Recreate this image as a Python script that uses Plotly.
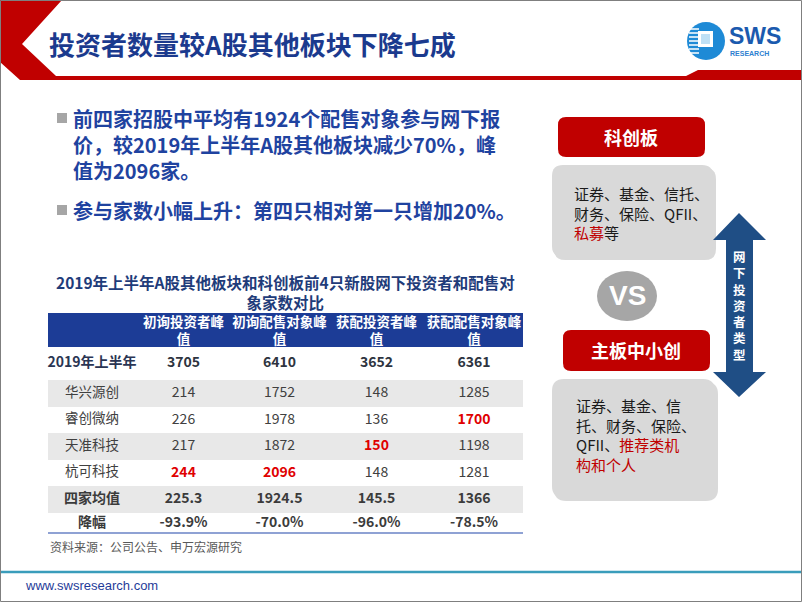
import plotly.graph_objects as go

W, H = 802, 602
CJK = "Noto Sans CJK SC"

# ---- slide text and table values ----
TITLE = "投资者数量较A股其他板块下降七成"
BULLETS = [
    ["前四家招股中平均有1924个配售对象参与网下报",
     "价，较2019年上半年A股其他板块减少70%，峰",
     "值为2096家。"],
    ["参与家数小幅上升：第四只相对第一只增加20%。"],
]
TABLE_TITLE = ["2019年上半年A股其他板块和科创板前4只新股网下投资者和配售对",
               "象家数对比"]
COLUMNS = ["初询投资者峰值", "初询配售对象峰值", "获配投资者峰值", "获配配售对象峰值"]
BASE_LABEL = "2019年上半年"
BASE_VALUES = [3705, 6410, 3652, 6361]
STOCKS = ["华兴源创", "睿创微纳", "天准科技", "杭可科技"]
INQ_INVESTORS = [214, 226, 217, 244]
INQ_ACCOUNTS = [1752, 1978, 1872, 2096]
ALLOT_INVESTORS = [148, 136, 150, 148]
ALLOT_ACCOUNTS = [1285, 1700, 1198, 1281]
MEAN_LABEL = "四家均值"
MEAN_VALUES = ["225.3", "1924.5", "145.5", "1366"]
DROP_LABEL = "降幅"
DROP_VALUES = ["-93.9%", "-70.0%", "-96.0%", "-78.5%"]
SOURCE = "资料来源：公司公告、申万宏源研究"

STAR_BOARD = "科创板"
STAR_TYPES = ["证券、基金、信托、", "财务、保险、QFII、", "<span style='color:#C00000'>私募</span>等"]
MAIN_BOARD = "主板中小创"
MAIN_TYPES = ["证券、基金、信", "托、财务、保险、",
              "QFII、<span style='color:#C00000'>推荐类机</span>",
              "<span style='color:#C00000'>构和个人</span>"]
ARROW_LABEL = "网下投资者类型"
SITE = "www.swsresearch.com"

# ---- colours ----
RED = "#C00000"
NAVY = "#1B3A8E"
BULLET_BLUE = "#1F43A0"
HEADER_BLUE = "#1C3C96"
ROW_GREY = "#E8E8E8"
BOX_GREY = "#D9D9D9"
ARROW_BLUE = "#1F4E85"


def rrect(x0, y0, x1, y1, r):
    return (f"M{x0 + r},{y0} L{x1 - r},{y0} Q{x1},{y0} {x1},{y0 + r} "
            f"L{x1},{y1 - r} Q{x1},{y1} {x1 - r},{y1} L{x0 + r},{y1} "
            f"Q{x0},{y1} {x0},{y1 - r} L{x0},{y0 + r} Q{x0},{y0} {x0 + r},{y0} Z")


shapes = []
annotations = []


def note(x, y, text, size, color, bold=False, anchor="left", family=CJK, align=None):
    annotations.append(dict(
        x=x, y=y, xref="x", yref="y", text=f"<b>{text}</b>" if bold else text,
        showarrow=False, xanchor=anchor, yanchor="middle", align=align or anchor,
        font=dict(family=family, size=size, color=color)))


# ---- slide frame, header band, logo, footer ----
shapes.append(dict(type="path", path="M0,0 L62,0 L22,44 L56,76 L686,76 L698,70 L802,70 "
                   "L802,80 L20,80 L0,62 Z", fillcolor=RED, line=dict(width=0)))
shapes.append(dict(type="circle", x0=687, x1=725, y0=22, y1=60, fillcolor="#1E8AD6",
                   line=dict(width=0)))
for sy in [29, 33, 37, 41, 45, 49, 53]:
    shapes.append(dict(type="line", x0=689, x1=699, y0=sy, y1=sy,
                       line=dict(color="white", width=1.5)))
shapes.append(dict(type="rect", x0=698, x1=713, y0=31, y1=47, fillcolor="white",
                   line=dict(width=0)))
shapes.append(dict(type="rect", x0=701, x1=710, y0=34, y1=44, fillcolor="#BFE0F5",
                   line=dict(width=0)))
note(727, 36, "SWS", 23, "#1B5AAE", bold=True, family="Liberation Sans")
note(728, 53, "RESEARCH", 7, "#2E7FD0", bold=True, family="Liberation Sans")
note(47, 43, TITLE, 26, NAVY, bold=True)

shapes.append(dict(type="line", x0=0, x1=W, y0=572, y1=572,
                   line=dict(color="#3A9DBB", width=2.5)))
note(23, 585, SITE, 13, "#1F3C99", family="Liberation Sans")
shapes.append(dict(type="rect", x0=0.5, x1=W - 0.5, y0=0.5, y1=H - 0.5,
                   line=dict(color="#7F7F7F", width=1)))

# ---- bullets ----
para_y = [144, 210]
for lines, yy in zip(BULLETS, para_y):
    top = yy - (len(lines) - 1) * 13
    shapes.append(dict(type="rect", x0=57, x1=67, y0=top - 5, y1=top + 5,
                       fillcolor="#A6A6A6", line=dict(width=0)))
    note(71, yy, "<br>".join(lines), 20, BULLET_BLUE, bold=True)

# ---- table ----
note(285, 292, "<br>".join(TABLE_TITLE), 15.5, "#1F3C7A", bold=True, anchor="center")

tx0 = 48
col_w = [88, 95, 97, 97, 98]
col_x = []
edge = tx0
for w in col_w:
    col_x.append(edge + w / 2)
    edge += w
tx1 = edge
head_top, head_bot = 313, 347
row_h = [33, 27, 26, 27, 26, 27, 20]
row_top = [head_bot]
for h in row_h[:-1]:
    row_top.append(row_top[-1] + h)
row_y = [t + h / 2 for t, h in zip(row_top, row_h)]

shapes.append(dict(type="rect", x0=tx0, x1=tx1, y0=head_top, y1=head_bot,
                   fillcolor=HEADER_BLUE, line=dict(width=0), layer="below"))
for i, (t, h) in enumerate(zip(row_top, row_h)):
    if i % 2 == 1:
        shapes.append(dict(type="rect", x0=tx0, x1=tx1, y0=t, y1=t + h,
                           fillcolor=ROW_GREY, line=dict(width=0), layer="below"))
shapes.append(dict(type="line", x0=tx0, x1=tx1, y0=row_top[-1] + row_h[-1],
                   y1=row_top[-1] + row_h[-1], line=dict(color="#8FA2D4", width=2)))
note(tx0, 546, SOURCE, 12, "#595959")

xs, ys, texts, colors, sizes = [], [], [], [], []


def cell(x, y, text, color, size, bold):
    xs.append(x)
    ys.append(y)
    texts.append(f"<b>{text}</b>" if bold else text)
    colors.append(color)
    sizes.append(size)


for c, name in enumerate(COLUMNS):
    cell(col_x[c + 1], head_top + 19, name[:-1] + "<br>" + name[-1:],
         "white", 13.5, True)

series = [INQ_INVESTORS, INQ_ACCOUNTS, ALLOT_INVESTORS, ALLOT_ACCOUNTS]
peaks = [s.index(max(s)) for s in series]

cell(col_x[0], row_y[0], BASE_LABEL, "#2A3553", 14, True)
for c, v in enumerate(BASE_VALUES):
    cell(col_x[c + 1], row_y[0], str(v), "#2E3440", 14, True)
for r, name in enumerate(STOCKS):
    y = row_y[r + 1]
    cell(col_x[0], y, name, "#404040", 13.5, False)
    for c, s in enumerate(series):
        hot = peaks[c] == r
        cell(col_x[c + 1], y, str(s[r]), "#E00000" if hot else "#404040", 14, hot)
cell(col_x[0], row_y[5], MEAN_LABEL, "#3B3B3B", 14, True)
for c, v in enumerate(MEAN_VALUES):
    cell(col_x[c + 1], row_y[5], v, "#3B3B3B", 14, True)
cell(col_x[0], row_y[6], DROP_LABEL, "#3B3B3B", 14, True)
for c, v in enumerate(DROP_VALUES):
    cell(col_x[c + 1], row_y[6], v, "#3B3B3B", 14, True)

fig = go.Figure(go.Scatter(
    x=xs, y=ys, text=texts, mode="text", textposition="middle center",
    textfont=dict(family=CJK, size=sizes, color=colors),
    hoverinfo="skip", showlegend=False, cliponaxis=False))

# ---- right panel: investor types ----
shapes.append(dict(type="path", path=rrect(558, 117, 705, 157, 8), fillcolor=RED,
                   line=dict(width=0)))
note(631, 137, STAR_BOARD, 18, "white", bold=True, anchor="center")
shapes.append(dict(type="path", path=rrect(554, 168, 716, 260, 11),
                   fillcolor="rgba(0,0,0,0.15)", line=dict(width=0)))
shapes.append(dict(type="path", path=rrect(552, 165, 713, 257, 11), fillcolor=BOX_GREY,
                   line=dict(width=0)))
note(572, 213, "<br>".join(STAR_TYPES), 15, "#1A1A1A")

shapes.append(dict(type="circle", x0=597, x1=657, y0=271, y1=321, fillcolor="#A6A6A6",
                   line=dict(width=0)))
note(627, 295, "VS", 28, "white", bold=True, anchor="center", family="Liberation Sans")

shapes.append(dict(type="path", path=rrect(563, 330, 710, 371, 8), fillcolor=RED,
                   line=dict(width=0)))
note(636, 350, MAIN_BOARD, 18, "white", bold=True, anchor="center")
shapes.append(dict(type="path", path=rrect(554, 382, 718, 501, 12),
                   fillcolor="rgba(0,0,0,0.15)", line=dict(width=0)))
shapes.append(dict(type="path", path=rrect(552, 379, 715, 498, 12), fillcolor=BOX_GREY,
                   line=dict(width=0)))
note(574, 435, "<br>".join(MAIN_TYPES), 15, "#1A1A1A")

shapes.append(dict(type="path",
                   path="M739,213 L766,240 L753,240 L753,372 L766,372 L739,397 "
                        "L713,372 L726,372 L726,240 L713,240 Z",
                   fillcolor=ARROW_BLUE, line=dict(width=0)))
note(739, 305, "<br>".join(ARROW_LABEL), 12.5, "white", bold=True, anchor="center")

fig.update_layout(
    width=W, height=H,
    margin=dict(l=0, r=0, t=0, b=0),
    paper_bgcolor="white", plot_bgcolor="white",
    xaxis=dict(range=[0, W], visible=False, fixedrange=True),
    yaxis=dict(range=[H, 0], visible=False, fixedrange=True),
    shapes=shapes, annotations=annotations,
)

# page body has a default margin; drop it so the slide sits at the window corner
fig.write_html("out.html", config={"displayModeBar": False},
               post_script="document.body.style.margin='0';")
